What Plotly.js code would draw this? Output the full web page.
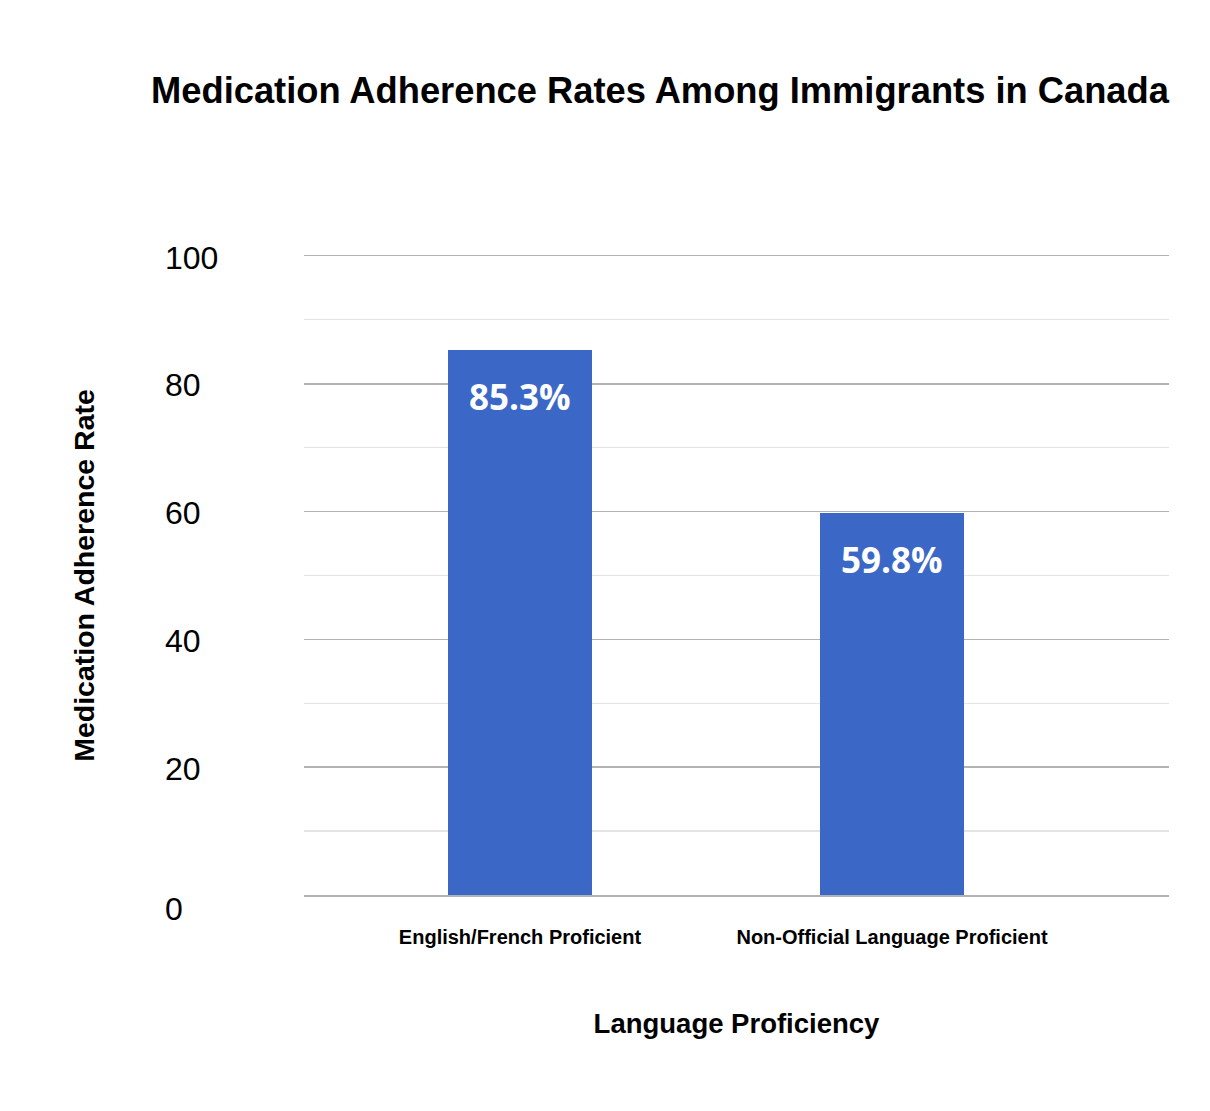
<!DOCTYPE html>
<html>
<head>
<meta charset="utf-8">
<script src="https://cdn.plot.ly/plotly-3.0.1.min.js"></script>
<style>
  html, body { margin: 0; padding: 0; background: #ffffff; }
  #chart { width: 1210px; height: 1111px; }
</style>
</head>
<body>
<div id="chart"></div>
<script>
// ---- data ----
const categories = ["English/French Proficient", "Non-Official Language Proficient"];
const adherenceRates = [85.3, 59.8];
const yTickValues = [0, 20, 40, 60, 80, 100];
const yTickLabels = ["0", "20", "40", "60", "80", "100"];

const chartTitle = "Medication Adherence Rates Among Immigrants in Canada";
const xTitle = "Language Proficiency";
const yTitle = "Medication Adherence Rate";

// ---- styling ----
const barColor = "#3b68c6";
const majorGrid = "#b3b3b3";
const minorGrid = "#e4e4e4";
const font = "Liberation Sans, Arial, Helvetica, sans-serif";

const trace = {
  type: "bar",
  x: categories,
  y: adherenceRates,
  width: 0.387,
  marker: { color: barColor, line: { width: 0 } },
  hoverinfo: "x+y",
  showlegend: false
};

// value labels inside bars, anchored to the data values
const valueLabels = categories.map((c, i) => ({
  x: c, y: adherenceRates[i], xref: "x", yref: "y",
  text: adherenceRates[i].toFixed(1) + "%",
  showarrow: false, yanchor: "top", xanchor: "center", yshift: -21,
  font: { family: "Open Sans, sans-serif", size: 35, color: "#ffffff", weight: 700 }
}));

// y tick labels, left aligned as in the original
const tickLabels = yTickValues.map((v, i) => ({
  x: -0.163, y: v, xref: "paper", yref: "y",
  text: yTickLabels[i], showarrow: false,
  xanchor: "left", yanchor: "middle",
  yshift: v === 0 ? -14 : -1.5,
  font: { family: font, size: 32, color: "#000000" }
}));

const layout = {
  width: 1210,
  height: 1111,
  paper_bgcolor: "#ffffff",
  plot_bgcolor: "#ffffff",
  margin: { l: 304, r: 41, t: 255.5, b: 215.5, pad: 0 },
  title: {
    text: "<b>" + chartTitle + "</b>",
    x: 660 / 1210, xanchor: "center", xref: "container",
    y: 1 - 90 / 1111, yanchor: "middle", yref: "container",
    font: { family: font, size: 36.3, color: "#000000" }
  },
  xaxis: {
    type: "category",
    range: [-0.5806, 1.7446],
    showgrid: false,
    zeroline: false,
    showline: true,
    mirror: true,
    linecolor: majorGrid,
    linewidth: 1.5,
    ticks: "",
    ticklabelstandoff: 23,
    tickfont: { family: font, size: 20, color: "#000000", weight: 700 },
    title: {
      text: xTitle,
      standoff: 67,
      font: { family: font, size: 27.5, color: "#000000", weight: 700 }
    },
    fixedrange: true
  },
  yaxis: {
    range: [0, 100],
    tickvals: yTickValues,
    showticklabels: false,
    ticks: "",
    showgrid: true,
    gridcolor: majorGrid,
    gridwidth: 1.5,
    zeroline: false,
    minor: { dtick: 10, showgrid: true, gridcolor: minorGrid, gridwidth: 1.2, ticks: "" },
    title: {
      text: yTitle,
      standoff: 200,
      font: { family: font, size: 28.5, color: "#000000", weight: 700 }
    },
    fixedrange: true
  },
  bargap: 0,
  annotations: valueLabels.concat(tickLabels)
};

Plotly.newPlot("chart", [trace], layout, { displayModeBar: false, staticPlot: true });
</script>
</body>
</html>
